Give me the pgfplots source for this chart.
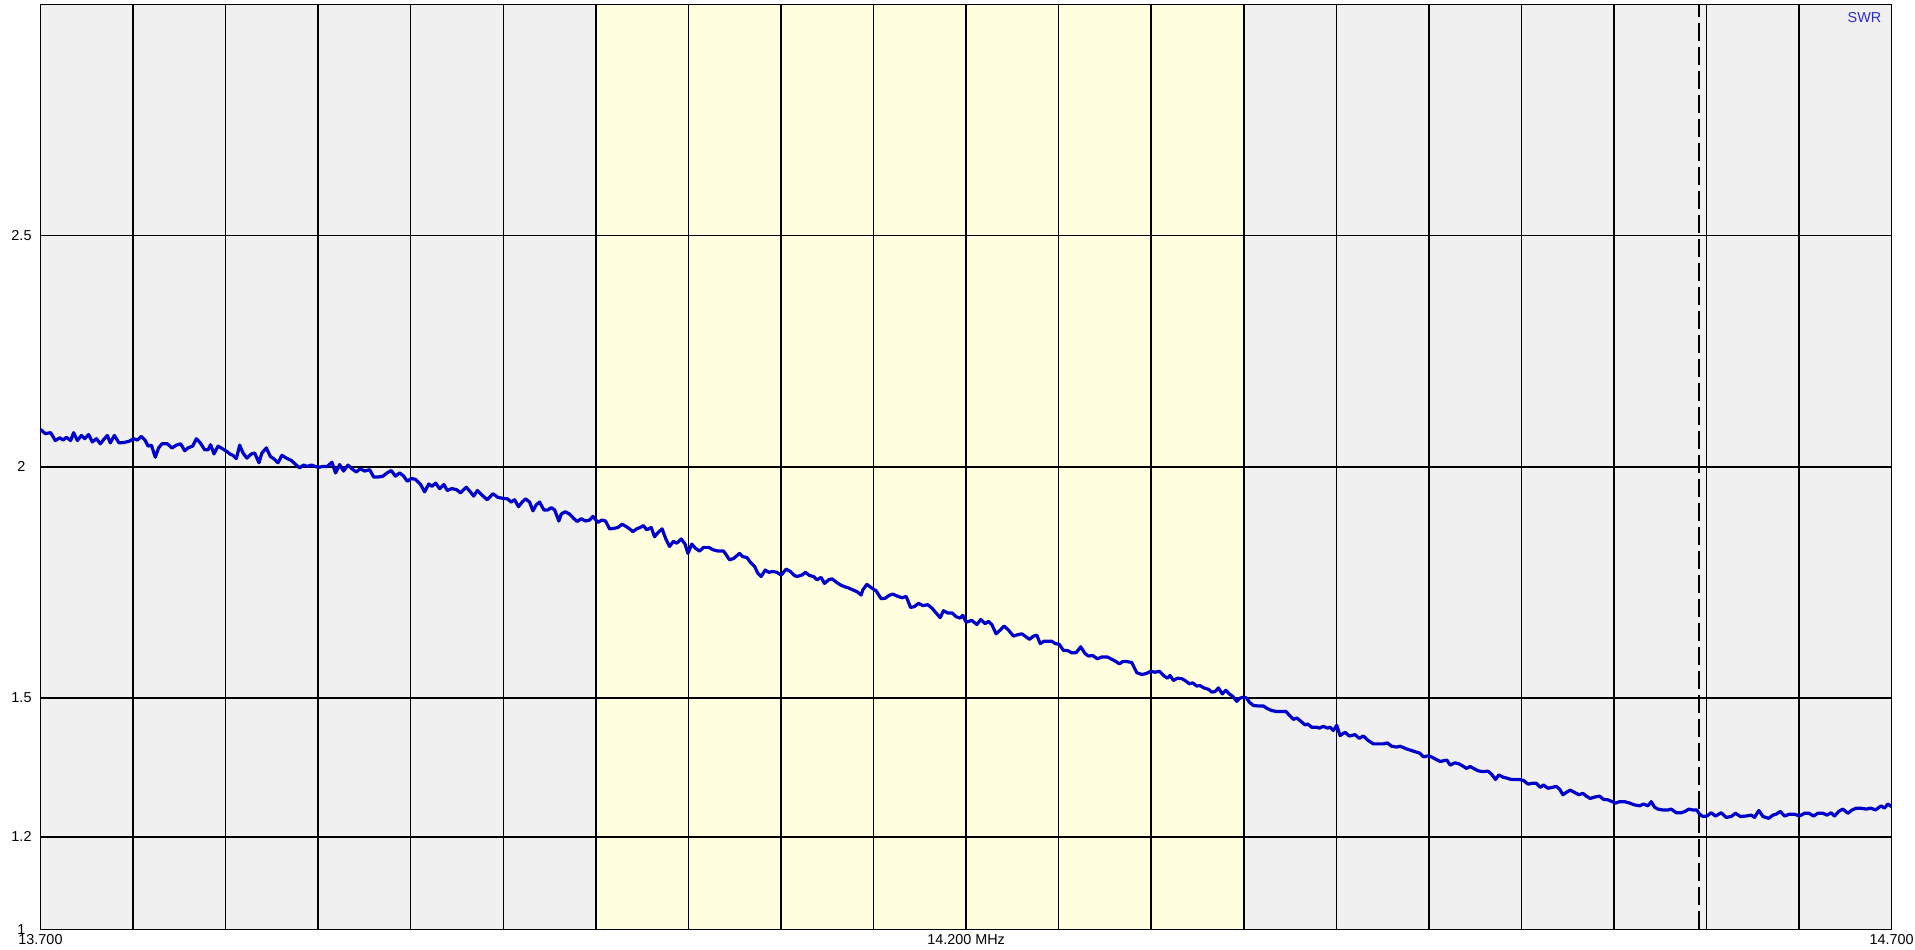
\documentclass[border=0pt]{standalone}
\usepackage{pgfplots}
\pgfplotsset{compat=1.18}
\usepackage{pgfplotstable}
\usepackage{fontspec}
\setmainfont{Liberation Sans}
\definecolor{bggray}{HTML}{F0F0F0}
\definecolor{bandyellow}{HTML}{FFFFE0}
\definecolor{curveblue}{HTML}{0000CC}
\definecolor{swrblue}{HTML}{2B2BE0}
\newcommand{\lblfont}{\fontsize{7.2}{8.5}\selectfont}
\pgfplotstableread{
f s
13.7000 2.081
13.7026 2.072
13.7055 2.074
13.7080 2.057
13.7104 2.063
13.7122 2.058
13.7140 2.064
13.7163 2.057
13.7179 2.074
13.7199 2.057
13.7221 2.068
13.7239 2.061
13.7260 2.070
13.7280 2.054
13.7302 2.061
13.7323 2.050
13.7341 2.059
13.7361 2.068
13.7377 2.052
13.7399 2.068
13.7424 2.052
13.7455 2.053
13.7482 2.056
13.7503 2.061
13.7523 2.058
13.7545 2.066
13.7566 2.057
13.7581 2.045
13.7599 2.047
13.7620 2.021
13.7638 2.041
13.7656 2.050
13.7685 2.050
13.7710 2.041
13.7734 2.047
13.7757 2.050
13.7779 2.035
13.7797 2.041
13.7822 2.045
13.7842 2.061
13.7863 2.052
13.7887 2.037
13.7905 2.037
13.7919 2.048
13.7937 2.028
13.7959 2.045
13.7980 2.040
13.8004 2.034
13.8027 2.027
13.8040 2.025
13.8058 2.018
13.8076 2.047
13.8094 2.030
13.8115 2.019
13.8139 2.028
13.8157 2.030
13.8180 2.009
13.8196 2.030
13.8220 2.041
13.8241 2.023
13.8265 2.016
13.8283 2.009
13.8304 2.025
13.8328 2.019
13.8355 2.014
13.8376 2.006
13.8400 1.998
13.8421 2.004
13.8441 2.001
13.8463 2.004
13.8484 2.001
13.8502 1.999
13.8526 2.001
13.8549 2.001
13.8574 2.010
13.8594 1.987
13.8616 2.005
13.8637 1.991
13.8661 2.004
13.8682 1.996
13.8706 1.989
13.8727 1.996
13.8751 1.991
13.8778 1.994
13.8800 1.978
13.8823 1.978
13.8850 1.980
13.8872 1.987
13.8895 1.992
13.8917 1.980
13.8940 1.987
13.8962 1.980
13.8981 1.969
13.9003 1.975
13.9026 1.973
13.9053 1.962
13.9075 1.946
13.9097 1.963
13.9115 1.958
13.9134 1.965
13.9156 1.953
13.9179 1.962
13.9197 1.949
13.9222 1.953
13.9246 1.951
13.9269 1.944
13.9300 1.956
13.9322 1.946
13.9340 1.937
13.9360 1.949
13.9385 1.939
13.9413 1.929
13.9444 1.942
13.9471 1.934
13.9498 1.932
13.9522 1.931
13.9543 1.924
13.9561 1.929
13.9582 1.914
13.9602 1.924
13.9620 1.931
13.9642 1.924
13.9660 1.905
13.9678 1.918
13.9696 1.924
13.9719 1.907
13.9741 1.907
13.9759 1.912
13.9777 1.907
13.9800 1.883
13.9813 1.898
13.9834 1.903
13.9858 1.898
13.9879 1.889
13.9899 1.882
13.9921 1.888
13.9944 1.883
13.9966 1.885
13.9984 1.893
14.0011 1.880
14.0032 1.885
14.0052 1.883
14.0074 1.866
14.0097 1.867
14.0119 1.869
14.0142 1.876
14.0164 1.871
14.0182 1.866
14.0200 1.860
14.0221 1.866
14.0239 1.869
14.0257 1.873
14.0275 1.864
14.0299 1.869
14.0317 1.849
14.0338 1.859
14.0358 1.866
14.0376 1.846
14.0398 1.828
14.0419 1.839
14.0437 1.835
14.0461 1.844
14.0482 1.833
14.0497 1.813
14.0518 1.833
14.0538 1.824
14.0560 1.818
14.0582 1.826
14.0610 1.826
14.0632 1.821
14.0659 1.818
14.0690 1.818
14.0704 1.810
14.0722 1.799
14.0744 1.802
14.0776 1.813
14.0794 1.806
14.0816 1.804
14.0834 1.794
14.0857 1.785
14.0875 1.770
14.0893 1.763
14.0915 1.777
14.0934 1.772
14.0956 1.774
14.0978 1.772
14.1001 1.766
14.1028 1.779
14.1050 1.774
14.1073 1.765
14.1087 1.763
14.1113 1.766
14.1132 1.772
14.1154 1.765
14.1176 1.763
14.1194 1.756
14.1217 1.761
14.1235 1.748
14.1258 1.756
14.1276 1.758
14.1298 1.751
14.1320 1.745
14.1343 1.741
14.1366 1.738
14.1388 1.734
14.1411 1.730
14.1433 1.723
14.1442 1.734
14.1464 1.746
14.1487 1.739
14.1514 1.732
14.1541 1.715
14.1563 1.716
14.1583 1.722
14.1604 1.725
14.1631 1.720
14.1655 1.717
14.1676 1.720
14.1700 1.696
14.1721 1.698
14.1743 1.705
14.1766 1.700
14.1793 1.702
14.1817 1.694
14.1838 1.684
14.1860 1.674
14.1878 1.689
14.1901 1.684
14.1925 1.684
14.1946 1.676
14.1968 1.673
14.1982 1.679
14.2000 1.664
14.2015 1.666
14.2031 1.668
14.2058 1.659
14.2079 1.670
14.2103 1.661
14.2121 1.666
14.2139 1.659
14.2162 1.639
14.2184 1.647
14.2205 1.656
14.2229 1.647
14.2256 1.634
14.2277 1.637
14.2301 1.639
14.2319 1.634
14.2342 1.627
14.2364 1.634
14.2382 1.636
14.2400 1.618
14.2421 1.623
14.2445 1.623
14.2463 1.623
14.2481 1.618
14.2504 1.616
14.2526 1.603
14.2547 1.603
14.2571 1.598
14.2594 1.598
14.2619 1.611
14.2643 1.596
14.2661 1.591
14.2684 1.592
14.2709 1.585
14.2733 1.589
14.2763 1.589
14.2787 1.584
14.2810 1.579
14.2828 1.574
14.2846 1.579
14.2868 1.579
14.2895 1.577
14.2907 1.567
14.2922 1.555
14.2949 1.551
14.2972 1.553
14.2997 1.558
14.3021 1.556
14.3044 1.558
14.3066 1.549
14.3087 1.543
14.3102 1.549
14.3120 1.538
14.3141 1.543
14.3165 1.542
14.3183 1.538
14.3206 1.531
14.3224 1.533
14.3246 1.526
14.3264 1.527
14.3285 1.522
14.3309 1.519
14.3327 1.513
14.3345 1.514
14.3363 1.522
14.3384 1.509
14.3403 1.517
14.3422 1.509
14.3440 1.504
14.3462 1.493
14.3480 1.500
14.3498 1.502
14.3516 1.500
14.3530 1.491
14.3552 1.484
14.3579 1.483
14.3606 1.483
14.3624 1.478
14.3651 1.473
14.3678 1.471
14.3705 1.471
14.3728 1.471
14.3746 1.463
14.3768 1.454
14.3786 1.457
14.3808 1.450
14.3831 1.442
14.3845 1.444
14.3867 1.437
14.3894 1.437
14.3908 1.435
14.3930 1.439
14.3952 1.435
14.3966 1.437
14.3984 1.430
14.4002 1.441
14.4020 1.419
14.4047 1.426
14.4070 1.418
14.4101 1.421
14.4123 1.413
14.4146 1.418
14.4173 1.408
14.4200 1.401
14.4227 1.401
14.4254 1.401
14.4276 1.403
14.4299 1.396
14.4326 1.394
14.4344 1.396
14.4380 1.390
14.4450 1.381
14.4471 1.373
14.4495 1.375
14.4513 1.373
14.4536 1.368
14.4561 1.363
14.4585 1.365
14.4597 1.366
14.4615 1.355
14.4639 1.360
14.4662 1.358
14.4684 1.353
14.4702 1.348
14.4723 1.352
14.4741 1.348
14.4765 1.343
14.4788 1.341
14.4819 1.342
14.4837 1.336
14.4860 1.324
14.4878 1.334
14.4900 1.329
14.4921 1.327
14.4945 1.324
14.4986 1.324
14.5011 1.322
14.5035 1.314
14.5062 1.316
14.5080 1.316
14.5101 1.307
14.5119 1.312
14.5143 1.305
14.5166 1.307
14.5188 1.309
14.5206 1.303
14.5224 1.291
14.5242 1.296
14.5263 1.301
14.5287 1.296
14.5310 1.291
14.5332 1.294
14.5350 1.288
14.5371 1.283
14.5395 1.286
14.5422 1.288
14.5443 1.281
14.5467 1.280
14.5490 1.276
14.5508 1.273
14.5530 1.276
14.5557 1.276
14.5584 1.273
14.5611 1.269
14.5638 1.267
14.5659 1.271
14.5683 1.267
14.5701 1.276
14.5719 1.264
14.5737 1.260
14.5764 1.258
14.5791 1.258
14.5809 1.260
14.5836 1.252
14.5863 1.252
14.5884 1.255
14.5904 1.260
14.5926 1.258
14.5947 1.258
14.5962 1.249
14.5980 1.244
14.6001 1.245
14.6025 1.252
14.6048 1.245
14.6079 1.252
14.6106 1.242
14.6133 1.244
14.6156 1.251
14.6182 1.244
14.6214 1.245
14.6241 1.247
14.6259 1.242
14.6282 1.257
14.6304 1.244
14.6336 1.240
14.6358 1.247
14.6376 1.249
14.6398 1.255
14.6421 1.245
14.6448 1.249
14.6475 1.249
14.6502 1.245
14.6529 1.251
14.6552 1.251
14.6578 1.245
14.6601 1.251
14.6628 1.251
14.6650 1.247
14.6673 1.252
14.6691 1.245
14.6714 1.255
14.6736 1.260
14.6763 1.251
14.6786 1.258
14.6808 1.262
14.6830 1.262
14.6862 1.260
14.6889 1.262
14.6912 1.258
14.6943 1.267
14.6961 1.262
14.6979 1.271
14.7000 1.265
}\swrdata

\begin{document}
\begin{tikzpicture}
\begin{axis}[
  at={(0pt,0pt)}, anchor=south west,
  scale only axis, width=925.6pt, height=462.4pt,
  set layers,
  xmin=13.7, xmax=14.7, ymin=1, ymax=3,
  xtick={13.7,14.2,14.7},
  xticklabels={13.700,14.200 MHz,14.700},
  minor x tick num=9,
  ytick={1,1.2,1.5,2,2.5},
  yticklabels={1,1.2,1.5,2,2.5},
  grid=both,
  major grid style={black, line width=0.75pt},
  minor grid style={black, line width=0.75pt},
  axis line style={black, line width=0.75pt},
  major tick length=0pt, minor tick length=0pt,
  xticklabel style={anchor=north, inner sep=0pt, yshift=-2.6pt, font=\lblfont, text=black},
  yticklabel style={anchor=center, inner sep=0pt, xshift=-9.5pt, font=\lblfont, text=black},
]
\addplot[draw=none, fill=bggray, on layer=axis background] coordinates {(13.7,1) (14.7,1) (14.7,3) (13.7,3)} -- cycle;
\addplot[draw=none, fill=bandyellow, on layer=axis background] coordinates {(14.0,1) (14.35,1) (14.35,3) (14.0,3)} -- cycle;
\addplot[black, line width=0.75pt, dash pattern=on 9pt off 3pt] coordinates {(14.596,1) (14.596,3)};
\addplot[color=curveblue, line width=1.6pt, line join=round, mark=none] table[x=f, y=s] {\swrdata};
\node[anchor=north east, inner sep=0pt, text=swrblue, font=\lblfont] at (rel axis cs:1,1) [xshift=-5pt, yshift=-4pt] {SWR};
\end{axis}
\pgfresetboundingbox
\path[use as bounding box] (-20.25pt,-9.85pt) rectangle (937.25pt,464.65pt);
\end{tikzpicture}
\end{document}
